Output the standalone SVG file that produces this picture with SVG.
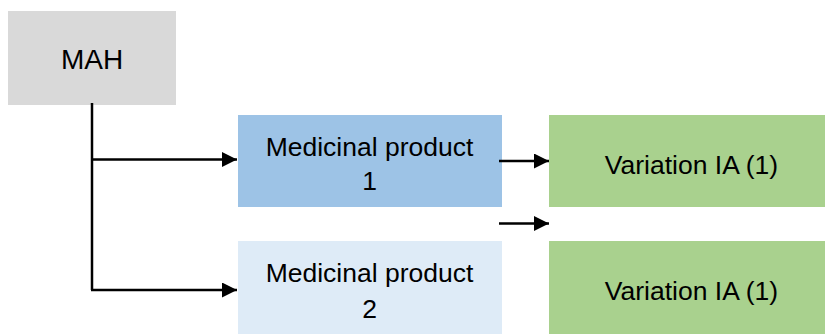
<svg xmlns="http://www.w3.org/2000/svg" width="825" height="334" viewBox="0 0 825 334">
  <style>
    .lbl { font-family: "Liberation Sans", Arial, sans-serif; font-size: 26.5px; fill: #000; text-anchor: middle; }
    .big { font-size: 28px; }
    .conn { stroke: #000; stroke-width: 2.5; fill: none; }
  </style>
  <defs>
    <marker id="arrow" markerWidth="15" markerHeight="15" refX="15" refY="7.5" orient="auto" markerUnits="userSpaceOnUse" viewBox="0 0 15 15">
      <path d="M0,0 L15,7.5 L0,15 Z" fill="#000"/>
    </marker>
  </defs>
  <rect width="825" height="334" fill="#fff"/>

  <g id="mah">
    <rect x="8" y="11" width="168" height="94" fill="#d9d9d9"/>
    <text class="lbl big" x="92" y="69">MAH</text>
  </g>

  <g id="product1">
    <rect x="238" y="115" width="264" height="92" fill="#9dc3e6"/>
    <text class="lbl" x="369.5" y="155.5">Medicinal product</text>
    <text class="lbl" x="369.5" y="190">1</text>
  </g>

  <g id="product2">
    <rect x="238" y="241" width="264" height="93" fill="#deebf7"/>
    <text class="lbl" x="369.5" y="281.5">Medicinal product</text>
    <text class="lbl" x="369.5" y="318">2</text>
  </g>

  <g id="variation1">
    <rect x="549" y="115" width="276" height="92" fill="#a9d18e"/>
    <text class="lbl" x="691.5" y="174">Variation IA (1)</text>
  </g>

  <g id="variation2">
    <rect x="549" y="241" width="276" height="93" fill="#a9d18e"/>
    <text class="lbl" x="691.5" y="300">Variation IA (1)</text>
  </g>

  <g id="connectors">
    <path class="conn" d="M92,103 L92,290"/>
    <path class="conn" d="M91,159.5 L237,159.5" marker-end="url(#arrow)"/>
    <path class="conn" d="M91,290 L237,290" marker-end="url(#arrow)"/>
    <path class="conn" d="M499,161 L549,161" marker-end="url(#arrow)"/>
    <path class="conn" d="M499,223.5 L549,223.5" marker-end="url(#arrow)"/>
  </g>
</svg>
